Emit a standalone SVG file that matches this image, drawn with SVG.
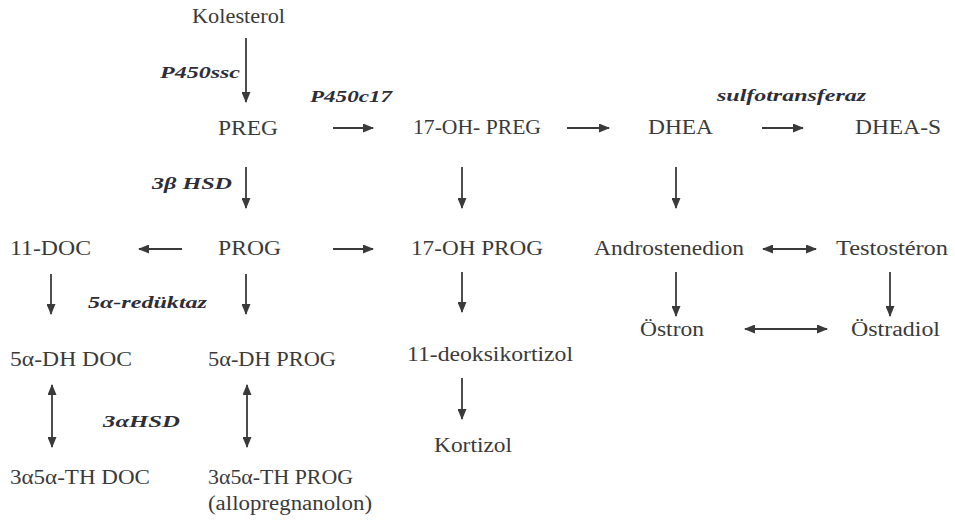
<svg xmlns="http://www.w3.org/2000/svg" width="955" height="521" viewBox="0 0 955 521">
<style>
.n{font-family:"Liberation Serif","Times New Roman",serif;font-size:20px;fill:#3a3a3a}
.e{font-family:"Liberation Serif","Times New Roman",serif;font-size:17.5px;font-weight:bold;font-style:italic;fill:#2e2e38}
.c line{stroke:#3a3a3a;stroke-width:1.8;fill:none}
</style>
<defs>
<marker id="ah" markerUnits="userSpaceOnUse" markerWidth="11" markerHeight="9" refX="10" refY="4.5" orient="auto-start-reverse" viewBox="0 0 11 9">
<path d="M0,0 L11,4.5 L0,9 z" fill="#3a3a3a"/>
</marker>
</defs>
<rect width="955" height="521" fill="#ffffff"/>
<g id="connectors" class="c">
<line x1="246" y1="38" x2="246" y2="102" marker-end="url(#ah)"/>
<line x1="333" y1="128" x2="373" y2="128" marker-end="url(#ah)"/>
<line x1="567" y1="128" x2="609" y2="128" marker-end="url(#ah)"/>
<line x1="762" y1="128" x2="803" y2="128" marker-end="url(#ah)"/>
<line x1="246" y1="167" x2="246" y2="208" marker-end="url(#ah)"/>
<line x1="462" y1="167" x2="462" y2="208" marker-end="url(#ah)"/>
<line x1="676" y1="167" x2="676" y2="208" marker-end="url(#ah)"/>
<line x1="182" y1="249" x2="139" y2="249" marker-end="url(#ah)"/>
<line x1="333" y1="249" x2="373" y2="249" marker-end="url(#ah)"/>
<line x1="763" y1="249" x2="816" y2="249" marker-start="url(#ah)" marker-end="url(#ah)"/>
<line x1="51" y1="274" x2="51" y2="314" marker-end="url(#ah)"/>
<line x1="246" y1="274" x2="246" y2="314" marker-end="url(#ah)"/>
<line x1="462" y1="272" x2="462" y2="312" marker-end="url(#ah)"/>
<line x1="676" y1="272" x2="676" y2="316" marker-end="url(#ah)"/>
<line x1="890" y1="272" x2="890" y2="316" marker-end="url(#ah)"/>
<line x1="745" y1="329" x2="827" y2="329" marker-start="url(#ah)" marker-end="url(#ah)"/>
<line x1="462" y1="378" x2="462" y2="419" marker-end="url(#ah)"/>
<line x1="52" y1="385" x2="52" y2="447" marker-start="url(#ah)" marker-end="url(#ah)"/>
<line x1="247" y1="385" x2="247" y2="447" marker-start="url(#ah)" marker-end="url(#ah)"/>
</g>
<g id="enzymes">
<text class="e" x="160" y="78" textLength="80" lengthAdjust="spacingAndGlyphs">P450ssc</text>
<text class="e" x="310" y="102" textLength="82" lengthAdjust="spacingAndGlyphs">P450c17</text>
<text class="e" x="717" y="101" textLength="149" lengthAdjust="spacingAndGlyphs">sulfotransferaz</text>
<text class="e" x="152" y="189" textLength="80" lengthAdjust="spacingAndGlyphs">3β HSD</text>
<text class="e" x="88" y="308" textLength="119" lengthAdjust="spacingAndGlyphs">5α-redüktaz</text>
<text class="e" x="103" y="427" textLength="77" lengthAdjust="spacingAndGlyphs">3αHSD</text>
</g>
<g id="kolesterol"><text class="n" x="192" y="23" textLength="93" lengthAdjust="spacingAndGlyphs">Kolesterol</text></g>
<g id="preg"><text class="n" x="218" y="135" textLength="60" lengthAdjust="spacingAndGlyphs">PREG</text></g>
<g id="oh-preg"><text class="n" x="413" y="134" textLength="128" lengthAdjust="spacingAndGlyphs">17-OH- PREG</text></g>
<g id="dhea"><text class="n" x="648" y="134" textLength="65" lengthAdjust="spacingAndGlyphs">DHEA</text></g>
<g id="dhea-s"><text class="n" x="855" y="134" textLength="86" lengthAdjust="spacingAndGlyphs">DHEA-S</text></g>
<g id="doc"><text class="n" x="10" y="255" textLength="81" lengthAdjust="spacingAndGlyphs">11-DOC</text></g>
<g id="prog"><text class="n" x="218" y="255" textLength="63" lengthAdjust="spacingAndGlyphs">PROG</text></g>
<g id="oh-prog"><text class="n" x="411" y="255" textLength="132" lengthAdjust="spacingAndGlyphs">17-OH PROG</text></g>
<g id="andro"><text class="n" x="594" y="255" textLength="150" lengthAdjust="spacingAndGlyphs">Androstenedion</text></g>
<g id="testo"><text class="n" x="836" y="255" textLength="112" lengthAdjust="spacingAndGlyphs">Testostéron</text></g>
<g id="ostron"><text class="n" x="640" y="336" textLength="64" lengthAdjust="spacingAndGlyphs">Östron</text></g>
<g id="ostradiol"><text class="n" x="851" y="336" textLength="89" lengthAdjust="spacingAndGlyphs">Östradiol</text></g>
<g id="dh-doc"><text class="n" x="10" y="366" textLength="122" lengthAdjust="spacingAndGlyphs">5α-DH DOC</text></g>
<g id="dh-prog"><text class="n" x="208" y="366" textLength="128" lengthAdjust="spacingAndGlyphs">5α-DH PROG</text></g>
<g id="deoksi"><text class="n" x="407" y="361" textLength="166" lengthAdjust="spacingAndGlyphs">11-deoksikortizol</text></g>
<g id="kortizol"><text class="n" x="434" y="452" textLength="78" lengthAdjust="spacingAndGlyphs">Kortizol</text></g>
<g id="th-doc"><text class="n" x="10" y="484" textLength="140" lengthAdjust="spacingAndGlyphs">3α5α-TH DOC</text></g>
<g id="th-prog"><text class="n" x="208" y="484" textLength="145" lengthAdjust="spacingAndGlyphs">3α5α-TH PROG</text><text class="n" x="208" y="510" textLength="164" lengthAdjust="spacingAndGlyphs">(allopregnanolon)</text></g>
</svg>
